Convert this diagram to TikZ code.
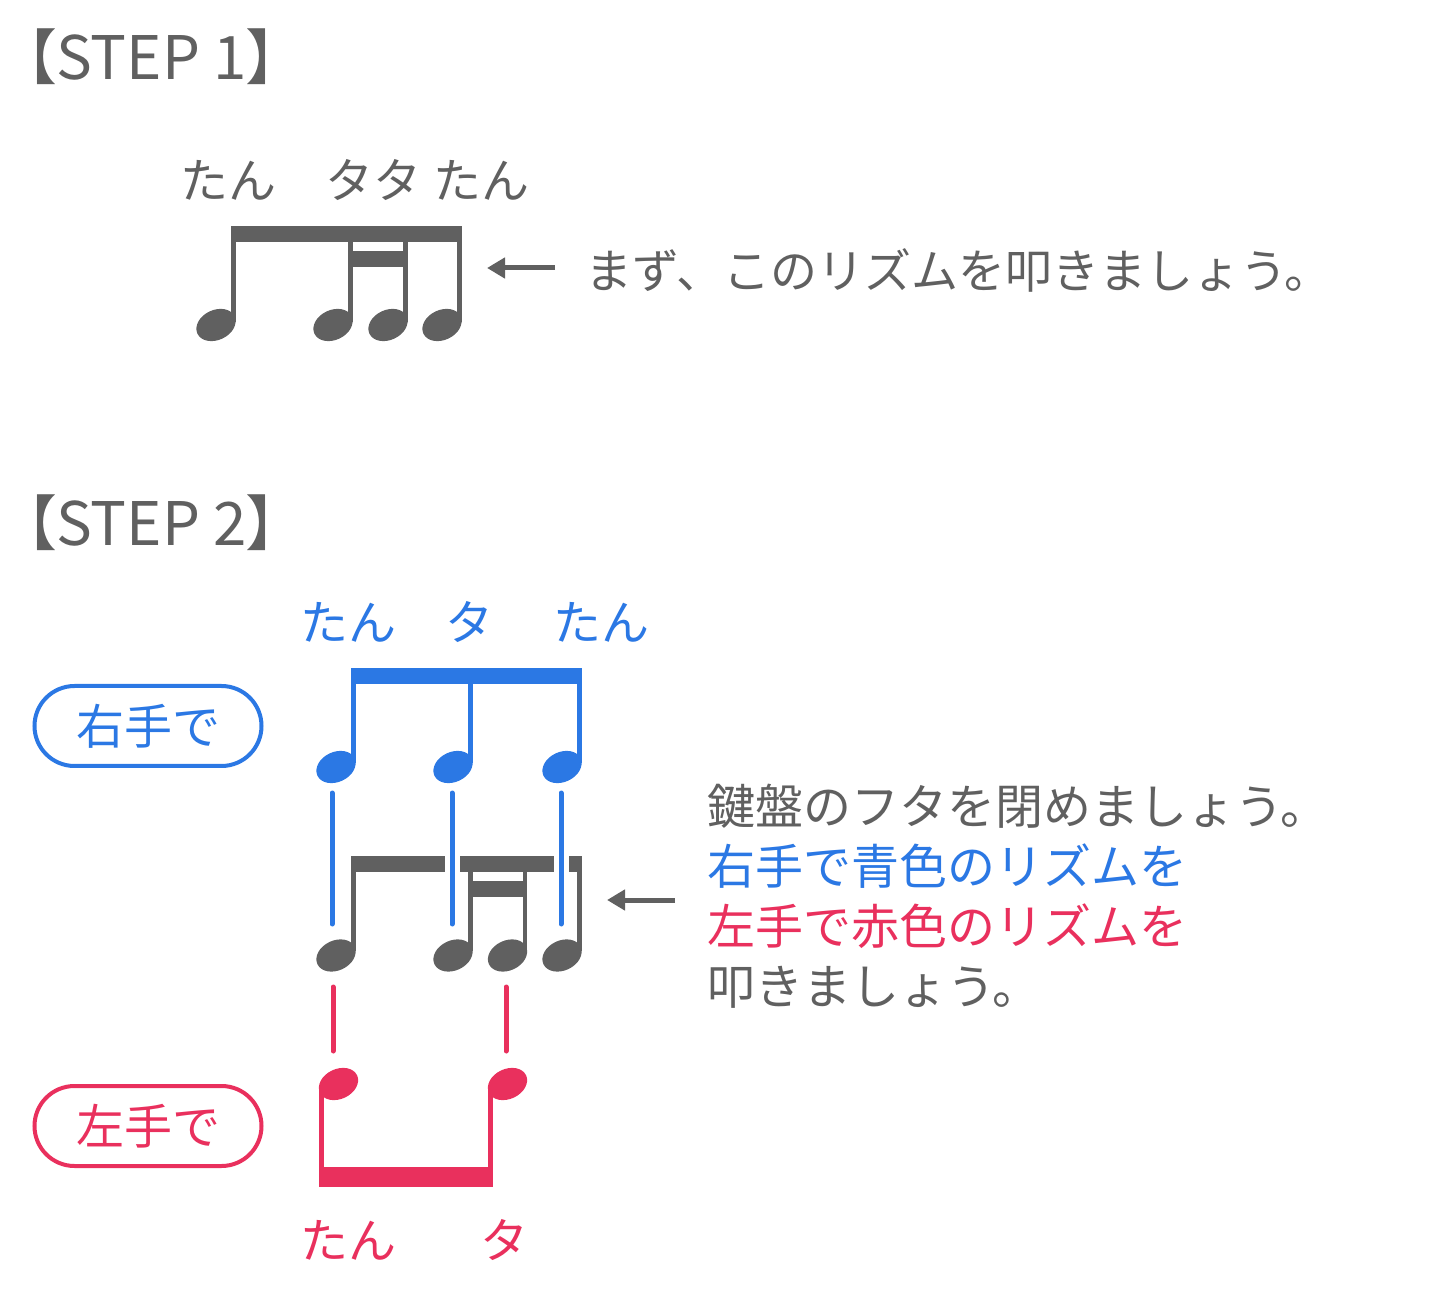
\documentclass[tikz,border=0pt]{standalone}
\usepackage{fontspec}
\setmainfont{Noto Sans CJK JP}
\newfontfamily\propfont[RawFeature=+palt]{Noto Sans CJK JP}
\usetikzlibrary{
  arrows.meta,
  positioning,
}
\definecolor{ink}{RGB}{96,96,96}
\definecolor{rhand}{RGB}{43,120,228}
\definecolor{lhand}{RGB}{233,48,93}
\tikzset{
  x = 0.5pt,
  y = -0.5pt,
  steplbl/.style={
    inner sep=0pt, anchor=west, text=ink,
    font=\propfont\fontsize{30pt}{34pt}\selectfont,
  },
  beat/.style={
    inner sep=0pt, anchor=west,
    font=\fontsize{24pt}{28pt}\selectfont,
  },
  msg/.style={
    inner sep=0pt, anchor=west, text=ink,
    font=\fontsize{23.5pt}{30pt}\selectfont,
  },
  pill/.style={
    draw, line width=2pt, rounded corners=20pt,
    minimum width=113.5pt, minimum height=40pt,
    inner sep=0pt, font=\fontsize{24pt}{28pt}\selectfont,
  },
  pointer/.style={draw=ink, line width=2.5pt, -{Triangle[length=9pt,width=10pt]}},
  tie/.style={line width=2.5pt, line cap=round},
  casing/.style={draw=white, line width=7.5pt, line cap=round},
}
% note head: centre x, centre y
\newcommand{\nhead}[2]{%
  \fill[rotate around={25:(#1,#2)}] (#1,#2) ellipse [x radius=20.5, y radius=15];}

\begin{document}
\begin{tikzpicture}
  \useasboundingbox (0,0) rectangle (1440,1293);
  %% STEP 1
  \node[steplbl](S1) at (26,57){【STEP 1】};
  \node[beat, text=ink](B1a) at (180,180){たん};
  \node[beat, text=ink](B1b) at (325,180){タタ};
  \node[beat, text=ink](B1c) at (433,180){たん};
  \begin{scope}[fill=ink]
    \fill (231,226) rectangle (461,242);
    \fill (348,251) rectangle (407,267);
    \foreach \s in {231,348,403,457}{
      \fill (\s,226) rectangle (\s+4.5,322);
      \nhead{\s-15}{325}
    }
  \end{scope}
  \coordinate (P1s) at (555,268);
  \coordinate (P1e) at (487,268);
  \draw[pointer](P1s) -- (P1e);
  \node[msg](M1) at (585,270){まず、このリズムを叩きましょう。};
  %% STEP 2
  \node[steplbl](S2) at (26,523){【STEP 2】};
  \node[beat, text=rhand](B2a) at (300,622){たん};
  \node[beat, text=rhand](B2b) at (445,622){タ};
  \node[beat, text=rhand](B2c) at (553,622){たん};
  \node[pill, draw=rhand, text=rhand](R) at (148,726){右手で};
  \node[pill, draw=lhand, text=lhand](L) at (148,1126){左手で};
  %% right hand
  \begin{scope}[fill=rhand]
    \fill (351,668) rectangle (581.5,684);
    \foreach \s in {351,468,577}{
      \fill (\s,668) rectangle (\s+4.5,763);
      \nhead{\s-15}{767}
    }
  \end{scope}
  %% both hands
  \begin{scope}[fill=ink]
    \fill (351,856) rectangle (581.5,872);
    \fill (468,881) rectangle (527,897);
    \foreach \s in {351,468,522.5,577}{
      \fill (\s,856) rectangle (\s+4.5,951);
      \nhead{\s-15}{955.5}
    }
  \end{scope}
  \foreach \t in {332,452,561}{
    \coordinate (up\t) at (\t,793);
    \coordinate (dn\t) at (\t,924);
    \draw[casing](up\t) -- (dn\t);
    \draw[tie, draw=rhand](up\t) -- (dn\t);
  }
  %% left hand
  \begin{scope}[fill=lhand]
    \fill (319,1167) rectangle (492,1187);
    \foreach \s in {319,488}{
      \fill (\s,1088) rectangle (\s+4.5,1187);
      \nhead{\s+19.5}{1084}
    }
  \end{scope}
  \foreach \t in {333,506}{
    \coordinate (lu\t) at (\t,987);
    \coordinate (ld\t) at (\t,1051);
    \draw[tie, draw=lhand](lu\t) -- (ld\t);
  }
  \node[beat, text=lhand](B3a) at (300,1240){たん};
  \node[beat, text=lhand](B3b) at (480,1240){タ};
  %%
  \coordinate (P2s) at (675,900);
  \coordinate (P2e) at (607,900);
  \draw[pointer](P2s) -- (P2e);
  \node[msg, align=left, anchor=north west, font=\fontsize{24pt}{30pt}\selectfont](M2) at (707,784){%
    鍵盤のフタを閉めましょう。\\
    \textcolor{rhand}{右手で青色のリズムを}\\
    \textcolor{lhand}{左手で赤色のリズムを}\\
    叩きましょう。};
\end{tikzpicture}
\end{document}
